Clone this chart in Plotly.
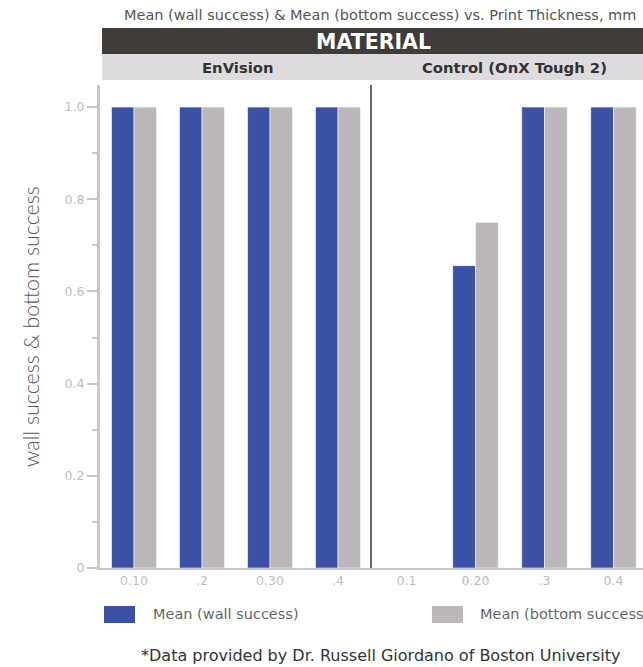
import plotly.graph_objects as go
from plotly.subplots import make_subplots

# ---- data ----
materials = ["EnVision", "Control (OnX Tough 2)"]
thickness_envision = ["0.10", ".2", "0.30", ".4"]
thickness_control = ["0.1", "0.20", ".3", "0.4"]
series_names = ["Mean (wall success)", "Mean (bottom success)"]
wall_envision = [1.0, 1.0, 1.0, 1.0]
bottom_envision = [1.0, 1.0, 1.0, 1.0]
wall_control = [0.0, 0.656, 1.0, 1.0]
bottom_control = [0.0, 0.75, 1.0, 1.0]
y_tickvals = [0, 0.2, 0.4, 0.6, 0.8, 1.0]
y_ticktext = ["0", "0.2", "0.4", "0.6", "0.8", "1.0"]
y_minor = [0.1, 0.3, 0.5, 0.7, 0.9]

title_text = "Mean (wall success) & Mean (bottom success) vs. Print Thickness, mm"
header_text = "MATERIAL"
y_title = "wall success & bottom success"
footer_text = "*Data provided by Dr. Russell Giordano of Boston University"

colors = ["#3a51a6", "#bbb7bb"]

W, H = 660, 667
L, R, T, B = 100, 12, 85, 99
PW = W - L - R
PH = H - T - B

def px_x(p):
    return (p - L) / PW

def px_y(p):
    return (H - B - p) / PH

split = px_x(372)

fig = make_subplots(rows=1, cols=2, shared_yaxes=True, horizontal_spacing=0,
                    column_widths=[split, 1 - split])

panels = [(thickness_envision, wall_envision, bottom_envision),
          (thickness_control, wall_control, bottom_control)]
for ci, (cats, wall, bottom) in enumerate(panels, start=1):
    for si, vals in enumerate([wall, bottom]):
        fig.add_trace(go.Bar(x=cats, y=vals, name=series_names[si],
                             marker=dict(color=colors[si],
                                         line=dict(color="rgba(255,255,255,0.55)", width=1)),
                             showlegend=False), row=1, col=ci)

fig.update_layout(
    width=W, height=H,
    margin=dict(l=L, r=R, t=T, b=B),
    paper_bgcolor="white", plot_bgcolor="white",
    barmode="group", bargap=0.34, bargroupgap=0,
    font=dict(family="DejaVu Sans", color="#555"),
)

tick_font = dict(family="DejaVu Sans", size=12.5, color="#bdbdbd")
axis_common = dict(showgrid=False, zeroline=False)
fig.update_xaxes(**axis_common, showline=True, linecolor="#c9c7c9", linewidth=2,
                 ticks="", tickfont=tick_font)
fig.update_yaxes(**axis_common, range=[0, 1.048])
fig.update_layout(
    yaxis=dict(showline=True, linecolor="#c9c7c9", linewidth=3,
               tickvals=y_tickvals, ticktext=y_ticktext,
               ticks="outside", ticklen=10, tickwidth=2, tickcolor="#c9c7c9",
               minor=dict(tickvals=y_minor, ticks="outside", ticklen=5,
                          tickwidth=2, tickcolor="#c9c7c9"),
               tickfont=tick_font,
               title=dict(text=y_title,
                          font=dict(family="Lato", size=21.4, color="#555", weight=300),
                          standoff=20)),
    yaxis2=dict(showline=True, linecolor="#6b6b6b", linewidth=2, ticks="",
                showticklabels=False),
)

# header bars
fig.add_shape(type="rect", xref="paper", yref="paper",
              x0=px_x(102), x1=1.05, y0=px_y(54), y1=px_y(28),
              fillcolor="#3f3c3a", line=dict(width=0), layer="above")
fig.add_shape(type="rect", xref="paper", yref="paper",
              x0=px_x(102), x1=1.05, y0=px_y(80), y1=px_y(54),
              fillcolor="#dddbdd", line=dict(width=0), layer="above")

def note(text, x, y, font, xanchor="center"):
    fig.add_annotation(text=text, xref="paper", yref="paper", x=x, y=y,
                       xanchor=xanchor, yanchor="middle", showarrow=False, font=font)

note(header_text, px_x(373), px_y(41.5),
     dict(family="DejaVu Sans", size=20.5, color="white", weight="bold"))
note(materials[0], px_x(237.5), px_y(67.5),
     dict(family="DejaVu Sans", size=14.8, color="#333", weight="bold"))
note(materials[1], px_x(514), px_y(67.5),
     dict(family="DejaVu Sans", size=14.8, color="#333", weight="bold"))

# title
note(title_text, px_x(379.5), px_y(15.5), dict(family="DejaVu Sans", size=14.5, color="#555"))

# legend (manual)
leg_y = 614.5
for si, (sx, tx) in enumerate([(104, 151), (432, 478)]):
    fig.add_shape(type="rect", xref="paper", yref="paper",
                  x0=px_x(sx), x1=px_x(sx + 31), y0=px_y(leg_y + 8.5), y1=px_y(leg_y - 8.5),
                  fillcolor=colors[si], line=dict(width=0))
    note(series_names[si], px_x(tx), px_y(leg_y - 1),
         dict(family="DejaVu Sans", size=14.5, color="#666"), xanchor="left")

# footer
note(footer_text, px_x(380.5), px_y(655.5), dict(family="DejaVu Sans", size=16, color="#333"))

fig.write_html("out.html", config={"displayModeBar": False},
               post_script="document.body.style.margin='0';document.body.style.overflow='hidden';")
